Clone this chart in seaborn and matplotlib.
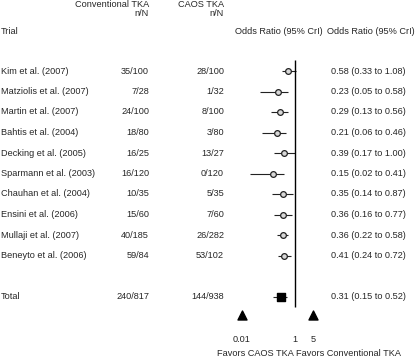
import matplotlib
matplotlib.use("Agg")
import matplotlib.pyplot as plt
import matplotlib.transforms as mtransforms
import seaborn as sns
import numpy as np
import pandas as pd

# study data
trials = ["Kim et al. (2007)", "Matziolis et al. (2007)", "Martin et al. (2007)",
          "Bahtis et al. (2004)", "Decking et al. (2005)", "Sparmann et al. (2003)",
          "Chauhan et al. (2004)", "Ensini et al. (2006)", "Mullaji et al. (2007)",
          "Beneyto et al. (2006)"]
conventional = ["35/100", "7/28", "24/100", "18/80", "16/25", "16/120",
                "10/35", "15/60", "40/185", "59/84"]
caos = ["28/100", "1/32", "8/100", "3/80", "13/27", "0/120",
        "5/35", "7/60", "26/282", "53/102"]
odds = [0.58, 0.23, 0.29, 0.21, 0.39, 0.15, 0.35, 0.36, 0.36, 0.41]
lower = [0.33, 0.05, 0.13, 0.06, 0.17, 0.02, 0.14, 0.16, 0.22, 0.24]
upper = [1.08, 0.58, 0.56, 0.46, 1.00, 0.41, 0.87, 0.77, 0.58, 0.72]

total_conv = "240/817"
total_caos = "144/938"
total_or, total_lo, total_hi = 0.31, 0.15, 0.52

axis_ticks = [0.01, 1, 5]
axis_ticklabels = ["0.01", "1", "5"]

sns.set_theme(style="white")
plt.rcParams["font.family"] = ["Liberation Sans", "DejaVu Sans"]
fs = 6.6

df = pd.DataFrame({"trial": trials, "or": odds, "lo": lower, "hi": upper})
df["row"] = np.arange(len(df))
total_row = len(df) + 1

W, H = 416, 361
fig = plt.figure(figsize=(W / 100, H / 100), dpi=100)

# row index <-> pixel: row 0 at y=71px, 20.5px per row
y0, dy = 71, 20.5
def px2row(p):
    return (p - y0) / dy

ax = fig.add_axes([241.7 / W, 0, 71.5 / W, 1])
ax.set_xscale("log")
ax.set_xlim(0.01, 5)
ax.set_ylim(px2row(H), px2row(0))
ax.axis("off")

# confidence intervals and point estimates
ax.hlines(df["row"], df["lo"], df["hi"], color="#222222", lw=0.8)
sns.scatterplot(data=df, x="or", y="row", ax=ax, marker="o", s=17,
                facecolor="#d8d8d8", edgecolor="#222222", linewidth=0.9,
                legend=False, zorder=3)
ax.hlines(total_row, total_lo, total_hi, color="#222222", lw=0.8)
ax.scatter([total_or], [total_row], marker="s", s=36, color="black", zorder=3)

# null line
ax.vlines(1, px2row(60), px2row(307), color="black", lw=1.0)

# axis end markers and labels
ax.scatter([axis_ticks[0], axis_ticks[-1]], [px2row(315)] * 2, marker="^",
           s=42, color="black", clip_on=False)
for t, lab in zip(axis_ticks, axis_ticklabels):
    ax.text(t, px2row(339), lab, ha="center", va="center", fontsize=fs)
ax.text(0.9, px2row(354), "Favors CAOS TKA", ha="right", va="center", fontsize=fs)
ax.text(1.1, px2row(354), "Favors Conventional TKA", ha="left", va="center", fontsize=fs)

# text columns
tr = mtransforms.blended_transform_factory(fig.transFigure, ax.transData)
def col(xpx):
    return xpx / W

ax.text(col(149), px2row(4.5), "Conventional TKA", transform=tr, ha="right", va="center", fontsize=fs)
ax.text(col(149), px2row(14), "n/N", transform=tr, ha="right", va="center", fontsize=fs)
ax.text(col(224), px2row(4.5), "CAOS TKA", transform=tr, ha="right", va="center", fontsize=fs)
ax.text(col(224), px2row(14), "n/N", transform=tr, ha="right", va="center", fontsize=fs)
ax.text(col(1), px2row(32), "Trial", transform=tr, ha="left", va="center", fontsize=fs)
ax.text(col(235), px2row(32), "Odds Ratio (95% CrI)", transform=tr, ha="left", va="center", fontsize=fs)
ax.text(col(415), px2row(32), "Odds Ratio (95% CrI)", transform=tr, ha="right", va="center", fontsize=fs)

for i, r in df.iterrows():
    ax.text(col(1), r["row"], r["trial"], transform=tr, ha="left", va="center", fontsize=fs)
    ax.text(col(149), r["row"], conventional[i], transform=tr, ha="right", va="center", fontsize=fs)
    ax.text(col(224), r["row"], caos[i], transform=tr, ha="right", va="center", fontsize=fs)
    ax.text(col(331), r["row"], f"{r['or']:.2f} ({r['lo']:.2f} to {r['hi']:.2f})",
            transform=tr, ha="left", va="center", fontsize=fs)

ax.text(col(1), total_row, "Total", transform=tr, ha="left", va="center", fontsize=fs)
ax.text(col(149), total_row, total_conv, transform=tr, ha="right", va="center", fontsize=fs)
ax.text(col(224), total_row, total_caos, transform=tr, ha="right", va="center", fontsize=fs)
ax.text(col(331), total_row, f"{total_or:.2f} ({total_lo:.2f} to {total_hi:.2f})",
        transform=tr, ha="left", va="center", fontsize=fs)

fig.savefig("out.png", dpi=100)
